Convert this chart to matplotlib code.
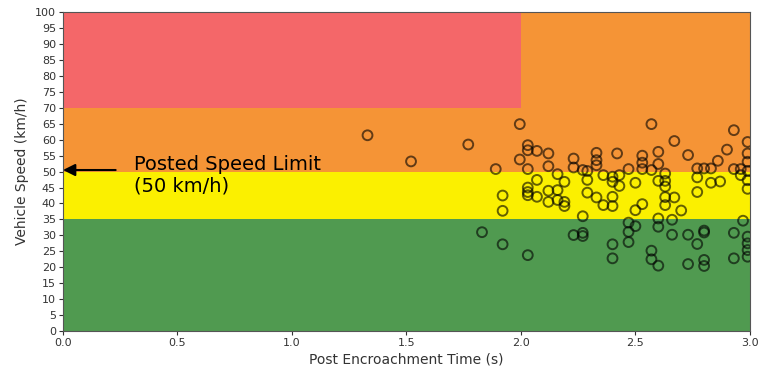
import matplotlib
matplotlib.use("Agg")
import matplotlib.pyplot as plt
from matplotlib.patches import Rectangle

# Zones: (x0, x1, y0, y1, color)
zone_x0 = [0.0, 2.0, 0.0, 0.0, 0.0]
zone_x1 = [2.0, 3.0, 3.0, 3.0, 3.0]
zone_y0 = [70, 70, 50, 35, 0]
zone_y1 = [100, 100, 70, 50, 35]
zone_colors = ['#F46769', '#F59436', '#F59436', '#FBF000', '#509A50']

pet = [1.33, 1.52, 1.77, 1.89, 1.995, 2.03, 2.03, 2.07, 2.12, 1.995, 2.03, 2.12,
       2.23, 2.23, 2.27, 2.29, 2.33, 2.33, 2.33, 2.42, 2.47, 2.53, 2.53, 2.53,
       2.57, 2.57, 2.60, 2.60, 2.67, 2.73, 2.77, 2.80, 2.83, 2.86, 2.90, 2.93,
       2.93, 2.96, 2.99, 2.99, 2.99, 2.99,
       1.92, 1.92, 2.03, 2.03, 2.03, 2.07, 2.07, 2.12, 2.12, 2.16, 2.16, 2.16,
       2.19, 2.19, 2.19, 2.27, 2.29, 2.29, 2.33, 2.36, 2.36, 2.40, 2.40, 2.40,
       2.40, 2.43, 2.43, 2.50, 2.50, 2.53, 2.60, 2.60, 2.63, 2.63, 2.63, 2.63,
       2.63, 2.67, 2.70, 2.77, 2.77, 2.83, 2.87, 2.96, 2.99, 2.99,
       1.83, 1.92, 2.03, 2.23, 2.27, 2.27, 2.40, 2.40, 2.47, 2.47, 2.47, 2.50,
       2.57, 2.57, 2.60, 2.60, 2.66, 2.66, 2.73, 2.73, 2.77, 2.80, 2.80, 2.80,
       2.80, 2.93, 2.93, 2.97, 2.99, 2.99, 2.99, 2.99]
speed = [61.4, 53.2, 58.5, 50.8, 64.9, 58.3, 56.7, 56.5, 55.7, 53.8, 50.8, 51.7,
         54.1, 51.3, 50.5, 50.2, 55.9, 53.6, 52.0, 55.7, 50.8, 55.0, 52.8, 50.8,
         64.9, 50.5, 56.2, 52.4, 59.6, 55.2, 51.0, 51.0, 51.0, 53.4, 56.9, 63.0,
         50.8, 50.8, 59.3, 55.7, 53.1, 50.2,
         42.5, 37.7, 45.0, 43.6, 42.6, 47.4, 42.1, 44.0, 40.5, 49.2, 44.2, 41.1,
         46.8, 40.5, 39.2, 36.0, 47.4, 43.4, 41.9, 48.9, 39.5, 48.4, 46.8, 42.1,
         39.2, 48.9, 45.5, 46.5, 37.9, 39.8, 47.1, 35.3, 49.4, 47.1, 45.3, 42.0,
         39.5, 41.9, 37.8, 48.2, 43.6, 46.5, 46.9, 48.9, 47.3, 44.6,
         31.0, 27.2, 23.8, 30.1, 30.8, 29.8, 27.2, 22.8, 34.0, 31.1, 27.9, 32.9,
         25.2, 22.5, 32.7, 20.5, 34.9, 30.2, 30.2, 21.0, 27.3, 31.5, 30.9, 22.3,
         20.4, 30.8, 22.8, 34.6, 29.6, 27.5, 25.4, 23.3]

xticks = [0.0, 0.5, 1.0, 1.5, 2.0, 2.5, 3.0]
yticks = list(range(0, 101, 5))

fig = plt.figure(figsize=(7.59, 3.66), dpi=100)
ax = fig.add_axes([0.083, 0.0956, 0.905, 0.871])

for x0, x1, y0, y1, c in zip(zone_x0, zone_x1, zone_y0, zone_y1, zone_colors):
    ax.add_patch(Rectangle((x0, y0), x1 - x0, y1 - y0, facecolor=c,
                           edgecolor='none', zorder=0))

ax.scatter(pet, speed, s=50, facecolors='none', edgecolors=(0, 0, 0, 0.6),
           linewidths=1.4, zorder=3)

ax.set_xlim(0, 3.0)
ax.set_ylim(0, 100)
ax.set_xticks(xticks)
ax.set_xticklabels([f'{v:.1f}' for v in xticks])
ax.set_yticks(yticks)
ax.tick_params(axis='both', labelsize=8, colors='#333333', length=3, pad=2)
for sp in ax.spines.values():
    sp.set_color('#555555')

ax.set_xlabel('Post Encroachment Time (s)', fontsize=10, color='#333333', labelpad=3)
ax.set_ylabel('Vehicle Speed (km/h)', fontsize=10, color='#333333', labelpad=4)

ax.annotate('', xy=(0.0, 50.5), xytext=(0.23, 50.5),
            arrowprops=dict(arrowstyle='-|>', color='black', lw=1.5,
                            mutation_scale=18, shrinkA=0, shrinkB=0), zorder=5)
ax.text(0.31, 48.8, 'Posted Speed Limit\n(50 km/h)', fontsize=14,
        family='DejaVu Sans', va='center', ha='left', color='black',
        linespacing=1.2, zorder=5)

fig.savefig('out.png', dpi=100)
